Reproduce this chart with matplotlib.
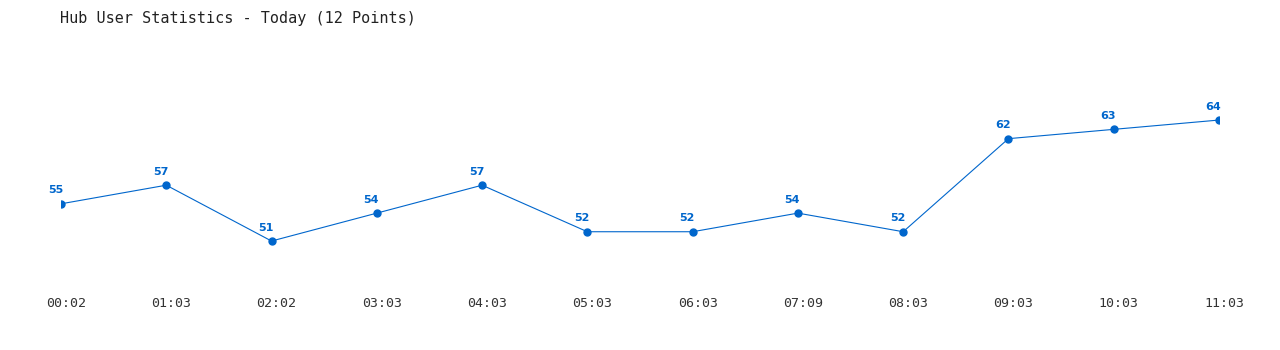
import matplotlib
matplotlib.use('Agg')

import matplotlib.pyplot as plt
import matplotlib.transforms as mtransforms

times = ['00:02', '01:03', '02:02', '03:03', '04:03', '05:03',
         '06:03', '07:09', '08:03', '09:03', '10:03', '11:03']
users = [55, 57, 51, 54, 57, 52, 52, 54, 52, 62, 63, 64]

blue = '#0066cc'

fig = plt.figure(figsize=(12.8, 3.5), dpi=100)
# axes placed so the first/last points sit at the reference pixel positions
ax = fig.add_axes([61 / 1280, 60 / 350, (1219 - 61) / 1280, 250 / 350])
x = list(range(len(users)))
ax.plot(x, users, color=blue, lw=0.8, marker='o', ms=5)
for i, v in enumerate(users):
    ax.annotate(str(v), (i, v), xytext=(-4, 6), textcoords='offset points',
                ha='center', va='bottom', color=blue, fontsize=8,
                fontweight='bold', family='DejaVu Sans')

ax.set_xlim(0, 11)
ax.set_ylim(45.74, 72.6)
ax.set_xticks(x)
ax.set_xticklabels(times, family='DejaVu Sans Mono', fontsize=9.5, color='#333333')
ax.tick_params(axis='x', length=0, pad=5)
# labels sit a few pixels right of the points in the original
shift = mtransforms.ScaledTranslation(5 / 100, 0, fig.dpi_scale_trans)
for lbl in ax.get_xticklabels():
    lbl.set_transform(lbl.get_transform() + shift)
ax.set_yticks([])
for s in ax.spines.values():
    s.set_visible(False)

fig.text(60 / 1280, 1 - 18 / 350, 'Hub User Statistics - Today (12 Points)',
         family='DejaVu Sans Mono', fontsize=10.9, color='#222222', va='center')

plt.savefig('out.png', dpi=100)
